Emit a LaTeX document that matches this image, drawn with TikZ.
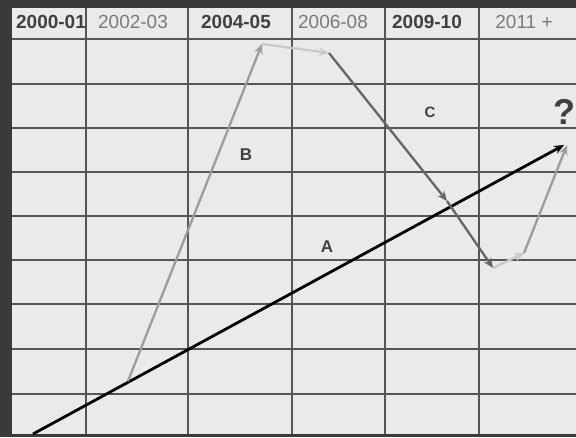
\documentclass[tikz,border=0pt]{standalone}
\usepackage{fontspec}
\setmainfont{Liberation Sans}
\usepackage{tikz}
\usetikzlibrary{arrows.meta}

\definecolor{frame}{HTML}{3A3A3A}
\definecolor{paper}{HTML}{E9EAEC}
\definecolor{gridc}{HTML}{555555}
\definecolor{hddark}{HTML}{404040}
\definecolor{hdgrey}{HTML}{7A7A7A}
\definecolor{midgrey}{HTML}{9C9C9C}
\definecolor{lightgrey}{HTML}{C9CACC}
\definecolor{darkgrey}{HTML}{656565}

\tikzset{
  gridline/.style={gridc,line width=1.3pt},
  hdbold/.style={hddark,font=\fontsize{19}{22}\selectfont\bfseries},
  hdplain/.style={hdgrey,font=\fontsize{19}{22}\selectfont},
  lbl/.style={hddark,font=\fontsize{17}{20}\selectfont\bfseries},
  move/.style={->,line width=2.3pt}
}

\begin{document}
\begin{tikzpicture}[>={Stealth[length=10pt,width=8.5pt]},x=1pt,y=-1pt]
  \useasboundingbox (0,0) rectangle (576,437);
  % frame and paper
  \fill[frame] (0,0) rectangle (576,437);
  \fill[paper] (12,8) rectangle (576,434);
  % grid
  \draw[gridline] (86,8) -- (86,434) (188,8) -- (188,434) (292,8) -- (292,434)
    (385,8) -- (385,434) (479,8) -- (479,434);
  \draw[gridline] (12,39) -- (576,39) (12,84) -- (576,84) (12,128) -- (576,128)
    (12,172) -- (576,172) (12,216) -- (576,216) (12,260) -- (576,260)
    (12,304) -- (576,304) (12,349) -- (576,349) (12,394) -- (576,394);
  % header
  \node[hdbold] (y1) at (51,22) {2000-01};
  \node[hdplain] (y2) at (133,22) {2002-03};
  \node[hdbold] (y3) at (236,22) {2004-05};
  \node[hdplain] (y4) at (333,22) {2006-08};
  \node[hdbold] (y5) at (427,22) {2009-10};
  \node[hdplain] (y6) at (524,22) {2011 +};
  % path points
  \coordinate (a0) at (33,434);
  \coordinate (a1) at (564,145);
  \coordinate (b0) at (128,381);
  \coordinate (b1) at (262,44);
  \coordinate (b2) at (329,53);
  \coordinate (c1) at (447,201);
  \coordinate (c2) at (493,268);
  \coordinate (d1) at (524,253);
  \coordinate (d2) at (567,145);
  % A : trend
  \draw[->,line width=2.8pt,black] (a0) -- (a1);
  % B, plateau, C, rebound
  \draw[move,midgrey] (b0) -- (b1);
  \draw[move,lightgrey] (b1) -- (b2);
  \draw[move,darkgrey] (b2) -- (c1);
  \draw[move,darkgrey] (c1) -- (c2);
  \draw[move,lightgrey] (c2) -- (d1);
  \draw[move,midgrey] (d1) -- (d2);
  % labels
  \node[lbl] (la) at (327,247) {A};
  \node[lbl] (lb) at (246,155) {B};
  \node[lbl,font=\fontsize{15}{18}\selectfont\bfseries] (lc) at (430,112) {C};
  \node[hddark,font=\fontsize{36}{40}\selectfont\bfseries] (q) at (564,112) {?};
\end{tikzpicture}
\end{document}
